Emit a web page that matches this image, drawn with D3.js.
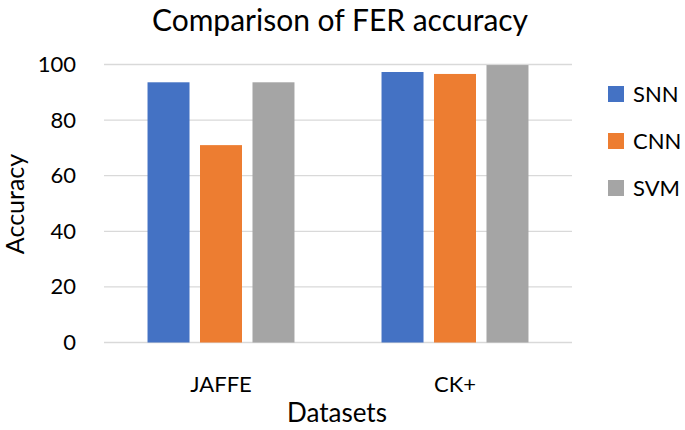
<!DOCTYPE html>
<html>
<head>
<meta charset="utf-8">
<script src="https://cdn.jsdelivr.net/npm/d3@7"></script>
<style>
  body { margin: 0; background: #fff; }
  text { font-family: Lato, "Open Sans", sans-serif; fill: #000; }
</style>
</head>
<body>
<script>
const w = 685;
const h = 430;
const margin = {top: 64.5, right: 113, bottom: 87.5, left: 104};

// chart data
const datasets = ["JAFFE", "CK+"];
const methods = ["SNN", "CNN", "SVM"];
const snn = [93.6, 97.3];
const cnn = [71.0, 96.6];
const svm = [93.6, 99.8];
const yTicks = [0, 20, 40, 60, 80, 100];
const colors = ["#4472C4", "#ED7D31", "#A5A5A5"];

const series = [snn, cnn, svm];
const rows = datasets.map((d, i) => ({
	name: d,
	values: methods.map((m, j) => ({method: m, value: series[j][i]}))
}));

const svg = d3.select("body")
	.append("svg")
	.attr("width", w)
	.attr("height", h);

const x0 = d3.scaleBand()
	.domain(datasets)
	.range([margin.left, w - margin.right])
	.paddingInner(0.372)
	.paddingOuter(0.186);

const x1 = d3.scaleBand()
	.domain(methods)
	.range([0, x0.bandwidth()])
	.paddingInner(0.2);

const yScale = d3.scaleLinear()
	.domain([0, 100])
	.range([h - margin.bottom, margin.top]);

const color = d3.scaleOrdinal().domain(methods).range(colors);

// gridlines
svg.append("g")
	.selectAll("line")
	.data(yTicks)
	.enter()
	.append("line")
	.attr("x1", margin.left)
	.attr("x2", w - margin.right)
	.attr("y1", (d) => yScale(d))
	.attr("y2", (d) => yScale(d))
	.attr("stroke", "#d9d9d9")
	.attr("stroke-width", 1.3);

// y tick labels
const yAxis = d3.axisLeft(yScale).tickValues(yTicks).tickSize(0).tickPadding(28);
svg.append("g")
	.attr("transform", "translate(" + margin.left + ",0)")
	.call(yAxis)
	.call((g) => g.select(".domain").remove())
	.selectAll("text")
	.style("font-size", "22px")
	.style("font-family", "Lato, 'Open Sans', sans-serif")
	.attr("fill", "#000");

// bars
svg.append("g")
	.selectAll("g")
	.data(rows)
	.enter()
	.append("g")
	.attr("transform", (d) => "translate(" + x0(d.name) + ",0)")
	.selectAll("rect")
	.data((d) => d.values)
	.enter()
	.append("rect")
	.attr("x", (d) => x1(d.method))
	.attr("y", (d) => yScale(d.value))
	.attr("width", x1.bandwidth())
	.attr("height", (d) => yScale(0) - yScale(d.value))
	.attr("fill", (d) => color(d.method));

// x tick labels
const xAxis = d3.axisBottom(x0).tickSize(0).tickPadding(34);
svg.append("g")
	.attr("transform", "translate(0," + (h - margin.bottom) + ")")
	.call(xAxis)
	.call((g) => g.select(".domain").remove())
	.selectAll("text")
	.style("font-size", "22px")
	.style("font-family", "Lato, 'Open Sans', sans-serif")
	.attr("fill", "#000");

// titles
svg.append("text")
	.attr("x", 340)
	.attr("y", 31)
	.attr("text-anchor", "middle")
	.style("font-size", "30px")
	.text("Comparison of FER accuracy");

svg.append("text")
	.attr("x", 337)
	.attr("y", 422)
	.attr("text-anchor", "middle")
	.style("font-size", "26px")
	.text("Datasets");

svg.append("text")
	.attr("transform", "translate(24,204) rotate(-90)")
	.attr("text-anchor", "middle")
	.style("font-size", "25px")
	.text("Accuracy");

// legend
const legend = svg.append("g")
	.selectAll("g")
	.data(methods)
	.enter()
	.append("g")
	.attr("transform", (d, i) => "translate(608," + (94 + i * 47) + ")");

legend.append("rect")
	.attr("x", 0)
	.attr("y", -8)
	.attr("width", 16)
	.attr("height", 16)
	.attr("fill", (d) => color(d));

legend.append("text")
	.attr("x", 25)
	.attr("y", 8)
	.style("font-size", "22px")
	.text((d) => d);
</script>
</body>
</html>
